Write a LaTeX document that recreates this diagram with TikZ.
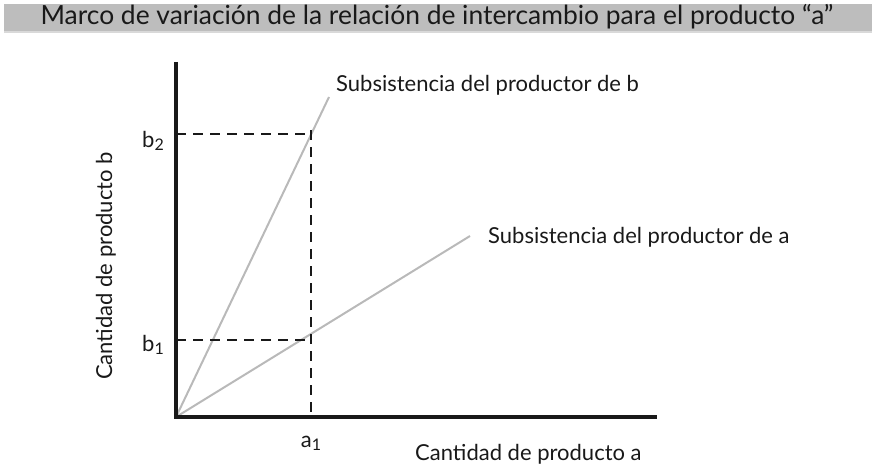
\documentclass[tikz,border=0pt]{standalone}
\usepackage{fontspec}
\setmainfont{Lato}
\usetikzlibrary{positioning}

\tikzstyle{lbl} = [inner sep=0pt, text=black!90, font=\fontsize{22}{26}\selectfont]
\tikzstyle{ttl} = [inner sep=0pt, text=black!90, font=\fontsize{26.4}{30}\selectfont]
\tikzstyle{axis} = [line width=4.5pt, black!90]
\tikzstyle{ref} = [dash pattern=on 10pt off 7pt, line width=2.8pt, black!90]
\tikzstyle{subs} = [line width=2pt, gray!55]

\newcommand{\sub}[1]{\raisebox{-3pt}{\fontsize{16}{16}\selectfont #1}}

\begin{document}
\begin{tikzpicture}[x=1pt,y=-1pt]
\useasboundingbox (0,0) rectangle (872,468);

    % title band
    \fill[gray!52] (4,4) rectangle (872,31);
    \draw[gray!30, line width=1.5pt] (4,32) -- (872,32);
    \node[ttl] (T) at (437,17) {Marco de variación de la relación de intercambio para el producto “a”};

    \coordinate (O) at (176,417);
    \coordinate (Ytop) at (176,62);
    \coordinate (Xend) at (657,417);
    \coordinate (B2) at (176,134);
    \coordinate (B1) at (176,340);
    \coordinate (A1) at (311,417);
    \coordinate (A1top) at (311,130);
    \coordinate (P2) at (311,134);
    \coordinate (P1) at (311,340);
    \coordinate (Lb) at (329,97);
    \coordinate (La) at (470,236);

    % subsistence lines
    \draw[subs] (O) -- (Lb);
    \draw[subs] (O) -- (La);

    % reference lines
    \draw[ref] (B2) -- (P2);
    \draw[ref] (B1) -- (P1);
    \draw[ref] (A1top) -- (A1);

    % axes
    \draw[axis] (Ytop) -- (O) -- (Xend);

    \node[lbl] (b2) [left=12pt of B2, yshift=-7pt] {b\sub{2}};
    \node[lbl] (b1) [left=12pt of B1, yshift=-5pt] {b\sub{1}};
    \node[lbl] (a1) [below=19pt of A1] {a\sub{1}};

    \node[lbl, anchor=west] (Sb) at (336,85) {Subsistencia del productor de b};
    \node[lbl, anchor=west] (Sa) at (488,237) {Subsistencia del productor de a};

    \node[lbl, anchor=west] (Xl) at (415,454) {Cantidad de producto a};
    \node[lbl, rotate=90] (Yl) at (106,266) {Cantidad de producto b};

\end{tikzpicture}
\end{document}
